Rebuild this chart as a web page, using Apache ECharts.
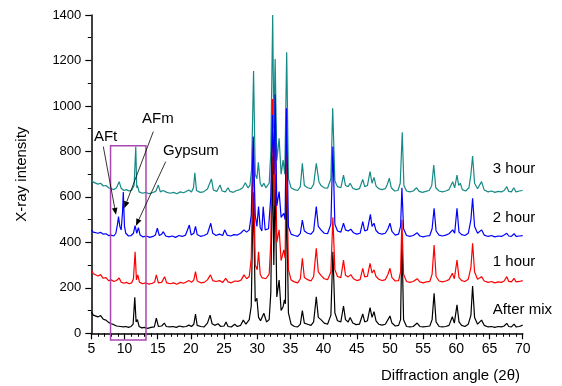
<!DOCTYPE html>
<html><head><meta charset="utf-8">
<script src="https://cdn.jsdelivr.net/npm/echarts@6/dist/echarts.min.js"></script>
<style>html,body{margin:0;padding:0;background:#fff}#c{width:562px;height:386px}</style>
</head><body><div id="c"></div>
<script>
const xTicks = [5,10,15,20,25,30,35,40,45,50,55,60,65,70];
const yTicks = [0,200,400,600,800,1000,1200,1400];
const seriesNames = ['After mix','1 hour','2 hour','3 hour'];
const seriesColors = ['#000000','#ff0000','#0000ff','#168a86'];

const afterMix = [[5,95],[5.3,80],[5.6,88],[6,72],[6.4,78],[6.8,62],[7.2,58],[7.6,48],[8,42],[8.4,38],[8.8,32],[9.1,40],[9.4,30],[9.8,28],[10.2,30],[10.6,26],[11,30],[11.3,40],[11.55,158],[11.75,50],[11.95,60],[12.2,30],[12.6,24],[13,26],[13.5,22],[14,26],[14.5,28],[14.8,67],[15.1,30],[15.6,32],[16,45],[16.3,30],[16.8,28],[17.3,30],[17.8,26],[18.3,32],[18.8,28],[19.3,30],[19.7,36],[20.1,30],[20.45,40],[20.7,85],[20.95,35],[21.5,30],[22,28],[22.5,45],[22.9,80],[23.2,42],[23.6,35],[24.1,42],[24.5,30],[25,32],[25.3,50],[25.6,30],[26.1,28],[26.6,40],[27,30],[27.5,35],[27.9,58],[28.3,40],[28.8,60],[29.1,120],[29.4,620],[29.7,140],[29.95,154],[30.2,70],[30.5,55],[31,88],[31.4,50],[31.8,60],[32.05,180],[32.3,780],[32.5,300],[32.7,700],[32.95,160],[33.3,234],[33.6,100],[33.9,117],[34.1,147],[34.25,130],[34.4,650],[34.7,90],[35.1,40],[35.6,30],[36.1,28],[36.5,40],[36.8,100],[37.1,45],[37.6,40],[38.1,35],[38.5,50],[38.9,161],[39.2,70],[39.6,60],[40.1,45],[40.6,40],[41.1,80],[41.4,359],[41.7,90],[42.1,55],[42.6,50],[43,120],[43.3,60],[43.7,50],[44,69],[44.4,45],[44.9,38],[45.4,40],[45.9,85],[46.2,50],[46.6,55],[47,113],[47.3,70],[47.6,95],[47.9,55],[48.3,40],[48.8,36],[49.3,40],[49.7,60],[50,76],[50.3,45],[50.8,32],[51.3,35],[51.6,60],[51.8,420],[52.05,60],[52.5,30],[53,28],[53.5,30],[54.1,45],[54.5,30],[55,28],[55.5,30],[56,32],[56.35,60],[56.65,176],[56.95,50],[57.4,30],[57.9,28],[58.4,30],[58.9,35],[59.4,73],[59.7,45],[60.1,125],[60.4,50],[60.8,35],[61.3,30],[61.8,40],[62.2,80],[62.45,208],[62.75,70],[63.2,40],[63.8,58],[64.2,35],[64.8,28],[65.3,30],[65.8,26],[66.3,30],[66.8,28],[67.2,32],[67.6,44],[67.9,30],[68.3,28],[68.7,40],[69,28],[69.5,30],[70,36]];

const hour1 = [[5,278],[5.3,262],[5.6,270],[6,252],[6.4,258],[6.8,242],[7.2,245],[7.6,232],[8,235],[8.4,228],[8.8,232],[9.2,243],[9.5,225],[9.9,220],[10.3,224],[10.7,218],[11.1,222],[11.35,240],[11.6,359],[11.8,235],[12.0,257],[12.25,225],[12.7,218],[13.2,222],[13.7,216],[14.2,220],[14.55,226],[14.8,257],[15.1,222],[15.6,224],[16.05,249],[16.35,222],[16.9,218],[17.4,222],[17.9,216],[18.4,224],[18.9,220],[19.3,226],[19.7,232],[20.1,224],[20.45,235],[20.7,271],[20.95,230],[21.5,222],[22,224],[22.5,235],[22.95,257],[23.3,232],[23.8,228],[24.3,232],[24.8,224],[25.25,242],[25.6,226],[26.1,222],[26.6,230],[27.1,228],[27.6,235],[28.0,257],[28.4,240],[28.8,250],[29.1,330],[29.4,820],[29.7,300],[30.0,280],[30.2,359],[30.45,260],[30.7,245],[30.95,249],[31.3,240],[31.8,260],[32.05,400],[32.3,1030],[32.5,560],[32.7,900],[32.95,400],[33.3,455],[33.6,320],[34.0,367],[34.2,330],[34.4,850],[34.7,280],[35.1,235],[35.6,226],[36.1,222],[36.5,240],[36.8,330],[37.1,245],[37.6,236],[38.1,230],[38.5,250],[38.9,374],[39.2,270],[39.6,255],[40.1,240],[40.6,236],[41.1,270],[41.4,510],[41.7,280],[42.1,250],[42.6,245],[43.0,322],[43.3,255],[43.7,248],[44.1,258],[44.5,240],[45,232],[45.5,236],[45.9,286],[46.2,248],[46.6,250],[47.0,308],[47.3,265],[47.6,279],[47.9,250],[48.3,238],[48.8,232],[49.3,236],[49.7,260],[50.0,286],[50.3,245],[50.8,230],[51.3,232],[51.6,270],[51.8,499],[52.05,260],[52.5,228],[53,224],[53.5,228],[54.1,240],[54.5,226],[55,222],[55.5,226],[56,228],[56.35,260],[56.65,388],[56.95,250],[57.4,230],[57.9,226],[58.4,230],[58.9,236],[59.4,264],[59.7,240],[60.1,322],[60.4,245],[60.8,232],[61.3,228],[61.8,238],[62.2,290],[62.45,396],[62.75,270],[63.2,238],[63.8,249],[64.2,230],[64.8,224],[65.3,228],[65.8,222],[66.3,226],[66.8,224],[67.2,230],[67.6,249],[67.9,228],[68.3,226],[68.7,242],[69,226],[69.5,228],[70,232]];

const hour2 = [[5,455],[5.3,445],[5.6,450],[6,440],[6.4,444],[6.8,436],[7.2,438],[7.6,430],[8,432],[8.4,428],[8.7,440],[8.95,480],[9.1,513],[9.3,470],[9.5,455],[9.7,530],[9.82,621],[10.0,470],[10.2,440],[10.6,428],[11,430],[11.35,440],[11.6,474],[11.85,440],[12.1,465],[12.35,432],[12.8,424],[13.3,428],[13.8,422],[14.3,426],[14.65,432],[14.95,462],[15.25,430],[15.6,436],[15.85,447],[16.2,428],[16.7,424],[17.2,428],[17.7,422],[18.2,430],[18.7,426],[19.2,432],[19.5,440],[19.77,476],[20.05,432],[20.45,440],[20.7,470],[20.95,435],[21.5,426],[22,430],[22.5,438],[23.0,484],[23.3,440],[23.8,430],[24.3,436],[24.8,430],[25.1,455],[25.45,432],[26,428],[26.5,434],[27,432],[27.5,440],[28.0,455],[28.4,445],[28.8,455],[29.1,520],[29.4,865],[29.7,520],[29.95,470],[30.2,557],[30.45,465],[30.7,450],[30.9,557],[31.2,455],[31.7,460],[32.05,600],[32.3,960],[32.5,700],[32.7,1050],[32.95,560],[33.3,623],[33.6,510],[34.0,528],[34.2,500],[34.4,990],[34.7,470],[35.1,436],[35.6,430],[36.1,426],[36.5,440],[36.8,498],[37.1,450],[37.6,440],[38.1,436],[38.5,450],[38.9,557],[39.2,470],[39.6,455],[40.1,440],[40.6,438],[41.1,480],[41.4,821],[41.7,480],[42.1,450],[42.6,445],[43.0,484],[43.3,455],[43.7,450],[44.1,458],[44.5,442],[45,436],[45.5,440],[45.9,491],[46.2,450],[46.6,455],[47.05,523],[47.3,470],[47.6,484],[47.9,452],[48.3,440],[48.8,436],[49.3,440],[49.7,460],[50.0,484],[50.3,448],[50.8,432],[51.3,436],[51.6,470],[51.8,640],[52.05,460],[52.5,430],[53,426],[53.5,430],[54.1,442],[54.5,428],[55,424],[55.5,428],[56,430],[56.35,460],[56.65,550],[56.95,450],[57.4,432],[57.9,428],[58.4,432],[58.9,438],[59.45,455],[59.75,440],[60.1,550],[60.4,445],[60.8,434],[61.3,430],[61.8,440],[62.2,500],[62.45,594],[62.75,470],[63.2,440],[63.8,455],[64.2,432],[64.8,426],[65.3,430],[65.8,424],[66.3,428],[66.8,426],[67.2,432],[67.6,440],[67.9,428],[68.3,426],[68.7,438],[69,426],[69.5,428],[70,430]];

const hour3 = [[5,675],[5.3,665],[5.6,670],[6,656],[6.4,660],[6.8,648],[7.2,650],[7.6,640],[8,636],[8.4,632],[8.8,640],[9.2,667],[9.5,638],[9.9,628],[10.3,632],[10.7,626],[11.1,630],[11.45,650],[11.7,821],[11.85,640],[11.95,650],[12.2,622],[12.7,616],[13.2,620],[13.7,614],[14.2,618],[14.7,624],[15.1,652],[15.4,622],[15.8,628],[16.1,636],[16.4,620],[16.9,616],[17.4,620],[17.9,614],[18.4,622],[18.9,618],[19.3,624],[19.7,630],[20.1,622],[20.4,640],[20.6,706],[20.85,628],[21.4,620],[21.9,622],[22.5,635],[23.1,679],[23.4,630],[23.9,624],[24.4,652],[24.7,626],[25.2,622],[25.6,640],[25.9,624],[26.4,620],[26.9,628],[27.4,632],[27.8,640],[28.2,662],[28.6,640],[28.9,650],[29.15,720],[29.45,1154],[29.7,700],[29.95,680],[30.17,752],[30.45,660],[30.7,645],[31.0,660],[31.3,640],[31.8,660],[32.05,800],[32.33,1400],[32.5,900],[32.7,1206],[32.95,760],[33.3,858],[33.6,700],[33.9,762],[34.15,700],[34.44,1236],[34.7,680],[35.1,640],[35.6,632],[36.1,628],[36.5,645],[36.8,748],[37.1,650],[37.6,640],[38.1,636],[38.5,655],[38.9,748],[39.3,667],[39.6,650],[40.1,640],[40.6,638],[41.1,680],[41.37,990],[41.7,670],[42.1,645],[42.6,640],[43.0,696],[43.3,650],[43.7,645],[44.0,660],[44.4,638],[44.9,632],[45.4,636],[45.9,677],[46.2,645],[46.6,650],[47.0,711],[47.3,660],[47.6,686],[47.9,648],[48.3,636],[48.8,632],[49.3,636],[49.6,655],[49.9,682],[50.2,640],[50.7,626],[51.2,628],[51.55,660],[51.85,884],[52.1,650],[52.5,626],[53,622],[53.5,626],[54.0,640],[54.4,624],[54.9,620],[55.4,624],[55.9,628],[56.3,650],[56.6,740],[56.9,640],[57.4,626],[57.9,622],[58.4,626],[58.9,632],[59.45,667],[59.75,640],[60.1,696],[60.35,650],[60.6,660],[60.9,632],[61.4,626],[61.9,640],[62.2,700],[62.45,780],[62.75,660],[63.2,636],[63.8,667],[64.2,630],[64.8,622],[65.3,626],[65.8,620],[66.3,624],[66.8,622],[67.2,628],[67.6,645],[67.9,624],[68.3,622],[68.65,640],[69,622],[69.5,626],[70,628]];

// Curve labels: [x, y] in data coordinates
const curveLabelPos = [[65.5,103],[65.5,314],[65.5,507],[65.5,723]];
// Annotation texts and arrows (data coordinates)
const annoTexts = [['AFt',5.4,864],['AFm',12.64,943],['Gypsum',15.8,802]];
const annoArrows = [[[6.81,821],[8.72,521]],[[14.34,887],[9.97,550]],[[16.21,755],[11.73,473]]];
const boxCorners = [[7.9,825],[13.24,-30]];

const FONT = 'Arial, "Liberation Sans", sans-serif';
const chart = echarts.init(document.getElementById('c'), null, {renderer:'canvas'});
const datasets = [afterMix, hour1, hour2, hour3];
const drawOrder = [3,0,1,2];
const series = drawOrder.map(i => ({
  name: seriesNames[i], type:'line', data: datasets[i], showSymbol:false, symbol:'none',
  lineStyle:{color: seriesColors[i], width:1.2}, animation:false, silent:true, z: 2
}));

chart.setOption({
  animation:false,
  grid:{left:91.3, right:39.3, top:15, bottom:52.7, containLabel:false},
  xAxis:{type:'value', min:5, max:70, interval:5,
    axisLine:{show:true, onZero:false, lineStyle:{color:'#000', width:1.5}},
    axisTick:{show:true, inside:false, length:6, lineStyle:{color:'#000', width:1.2}},
    minorTick:{show:true, splitNumber:5, length:3.5, lineStyle:{color:'#000', width:1}},
    axisLabel:{color:'#000', fontSize:14, fontFamily:FONT, margin:9,
      formatter: v => xTicks.includes(v) ? String(v) : ''},
    splitLine:{show:false}},
  yAxis:{type:'value', min:0, max:1400, interval:200,
    axisLine:{show:true, lineStyle:{color:'#000', width:1.5}},
    axisTick:{show:true, inside:false, length:6, lineStyle:{color:'#000', width:1.2}},
    minorTick:{show:true, splitNumber:2, length:3.5, lineStyle:{color:'#000', width:1}},
    axisLabel:{color:'#000', fontSize:13, fontFamily:FONT, margin:10,
      formatter: v => yTicks.includes(v) ? String(v) : ''},
    splitLine:{show:false},
    name:'X-ray intensity', nameLocation:'middle', nameGap:62, nameRotate:90,
    nameTextStyle:{color:'#000', fontSize:15, fontFamily:FONT}},
  series: series
});

function px(p){ return chart.convertToPixel({gridIndex:0}, p); }
const g = [];
// box
const b0 = px(boxCorners[0]), b1 = px(boxCorners[1]);
g.push({type:'rect', shape:{x:b0[0], y:b0[1], width:b1[0]-b0[0], height:b1[1]-b0[1]},
  style:{fill:'none', stroke:'#a848b0', lineWidth:1.5}, z:10});
// curve labels
curveLabelPos.forEach((p,i) => {
  const q = px(p);
  g.push({type:'text', x:q[0], y:q[1], style:{text:seriesNames[i], fill:'#000', font:'15px '+FONT, verticalAlign:'middle', align:'left'}, z:10});
});
annoTexts.forEach(t => {
  const q = px([t[1], t[2]]);
  g.push({type:'text', x:q[0], y:q[1], style:{text:t[0], fill:'#000', font:'15px '+FONT, verticalAlign:'middle', align:'left'}, z:10});
});
annoArrows.forEach(a => {
  const s = px(a[0]), e = px(a[1]);
  const dx = e[0]-s[0], dy = e[1]-s[1], L = Math.hypot(dx,dy);
  const ux = dx/L, uy = dy/L, hl = 7, hw = 2.8;
  const bx = e[0]-ux*hl, by = e[1]-uy*hl;
  g.push({type:'line', shape:{x1:s[0], y1:s[1], x2:bx, y2:by}, style:{stroke:'#000', lineWidth:0.8}, z:10});
  g.push({type:'polygon', shape:{points:[[e[0],e[1]],[bx-uy*hw, by+ux*hw],[bx+uy*hw, by-ux*hw]]}, style:{fill:'#000'}, z:10});
});
// x-axis title
g.push({type:'text', right:42, top:368, style:{text:'Diffraction angle (2\u03b8)', fill:'#000', font:'15px '+FONT}, z:10});
chart.setOption({graphic:g});
</script></body></html>
